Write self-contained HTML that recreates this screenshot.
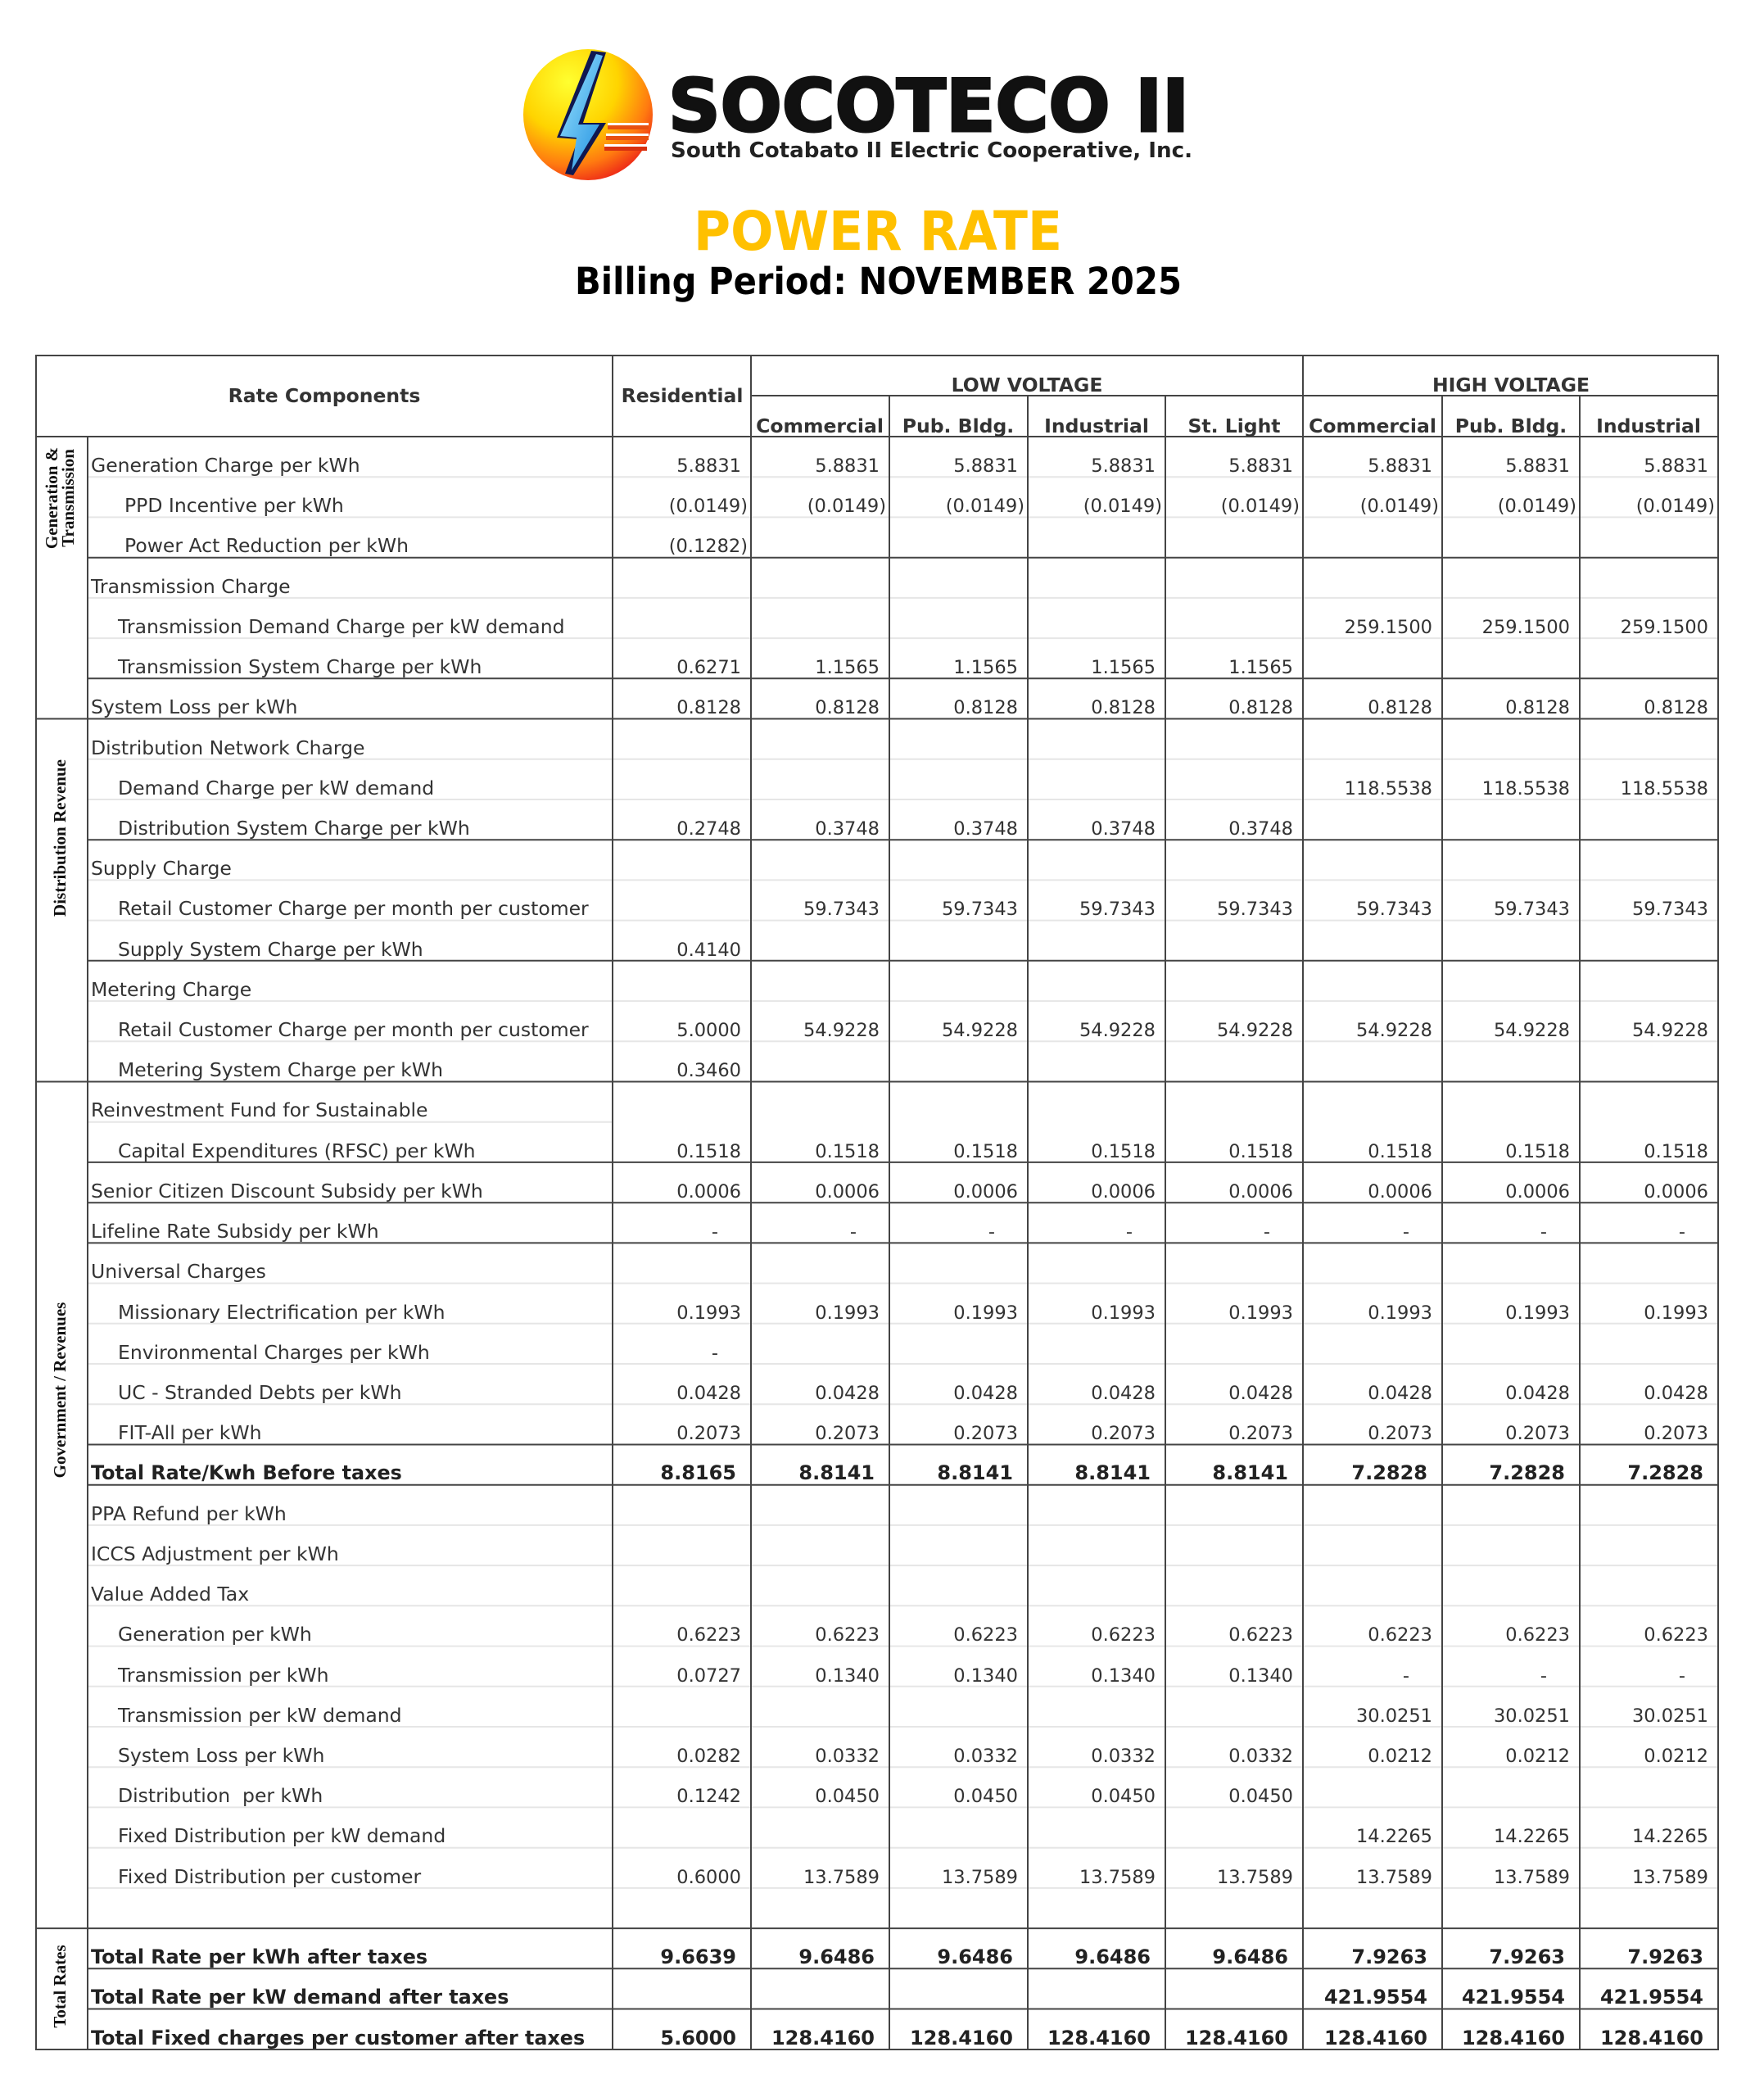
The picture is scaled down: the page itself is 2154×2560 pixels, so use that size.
<!DOCTYPE html>
<html><head><meta charset="utf-8"><style>
html,body{margin:0;padding:0;background:#fff;}
svg{display:block;}
.l{font-family:"DejaVu Sans","Liberation Sans",sans-serif;font-size:23.5px;fill:#333;}
.v{font-family:"DejaVu Sans","Liberation Sans",sans-serif;font-size:22.5px;fill:#333;text-anchor:end;}
.b{font-family:"DejaVu Sans","Liberation Sans",sans-serif;font-size:23.8px;font-weight:bold;fill:#222;}
.bv{font-family:"DejaVu Sans","Liberation Sans",sans-serif;font-size:24px;font-weight:bold;fill:#222;text-anchor:end;}
.h{font-family:"DejaVu Sans","Liberation Sans",sans-serif;font-size:23.5px;font-weight:bold;fill:#333;text-anchor:middle;}
.c{font-family:"Liberation Serif",serif;font-size:21px;font-weight:bold;fill:#111;text-anchor:middle;}
</style></head><body>
<svg width="2154" height="2560" viewBox="0 0 2154 2560" xmlns="http://www.w3.org/2000/svg">
<defs>
<radialGradient id="g1" cx="0.35" cy="0.25" r="0.85">
<stop offset="0" stop-color="#ffff30"/><stop offset="0.45" stop-color="#ffd400"/><stop offset="0.75" stop-color="#ff7a10"/><stop offset="1" stop-color="#e8101a"/>
</radialGradient>
<linearGradient id="g2" x1="0" y1="0" x2="1" y2="1"><stop offset="0" stop-color="#9fe6ff"/><stop offset="1" stop-color="#1f8fe0"/></linearGradient>
</defs>
<ellipse cx="718" cy="140" rx="79" ry="80" fill="url(#g1)"/>
<polygon points="722,62 740,64 712,150 740,150 700,214 690,212 706,170 680,168" fill="#101850"/>
<polygon points="728,66 736,68 706,152 732,152 698,208 704,168 684,166" fill="url(#g2)"/>
<rect x="742" y="150" width="50" height="8" fill="#e85010"/><rect x="740" y="163" width="52" height="8" fill="#e85010"/><rect x="738" y="176" width="52" height="8" fill="#d83010"/>
<rect x="742" y="150" width="50" height="3" fill="#fff"/><rect x="740" y="163" width="52" height="3" fill="#fff"/><rect x="738" y="176" width="52" height="3" fill="#fff"/>
<text x="816" y="160" font-family="DejaVu Sans,sans-serif" font-weight="bold" font-size="88" fill="#111" stroke="#111" stroke-width="3" textLength="636" lengthAdjust="spacingAndGlyphs">SOCOTECO II</text>
<text x="819" y="192" font-family="DejaVu Sans,sans-serif" font-weight="bold" font-size="26" fill="#222" textLength="637" lengthAdjust="spacingAndGlyphs">South Cotabato II Electric Cooperative, Inc.</text>
<text x="847" y="305" font-family="DejaVu Sans,sans-serif" font-weight="bold" font-size="66" fill="#ffc000" textLength="450" lengthAdjust="spacingAndGlyphs">POWER RATE</text>
<text x="702" y="359" font-family="DejaVu Sans,sans-serif" font-weight="bold" font-size="45" fill="#000" textLength="741" lengthAdjust="spacingAndGlyphs">Billing Period: NOVEMBER 2025</text>

<g stroke="#e6e6e6" stroke-width="2">
<line x1="107" y1="582.2" x2="2098" y2="582.2"/><line x1="107" y1="631.4" x2="2098" y2="631.4"/>
<line x1="107" y1="729.9" x2="2098" y2="729.9"/><line x1="107" y1="779.1" x2="2098" y2="779.1"/>
<line x1="107" y1="926.8" x2="2098" y2="926.8"/><line x1="107" y1="976" x2="2098" y2="976"/>
<line x1="107" y1="1074.4" x2="2098" y2="1074.4"/><line x1="107" y1="1123.6" x2="2098" y2="1123.6"/>
<line x1="107" y1="1222.1" x2="2098" y2="1222.1"/><line x1="107" y1="1271.3" x2="2098" y2="1271.3"/>
<line x1="107" y1="1369.7" x2="748" y2="1369.7"/>
<line x1="107" y1="1566.6" x2="2098" y2="1566.6"/><line x1="107" y1="1615.8" x2="2098" y2="1615.8"/><line x1="107" y1="1665" x2="2098" y2="1665"/><line x1="107" y1="1714.3" x2="2098" y2="1714.3"/>
<line x1="107" y1="1861.9" x2="2098" y2="1861.9"/><line x1="107" y1="1911.1" x2="2098" y2="1911.1"/><line x1="107" y1="1960.3" x2="2098" y2="1960.3"/><line x1="107" y1="2009.6" x2="2098" y2="2009.6"/><line x1="107" y1="2058.8" x2="2098" y2="2058.8"/><line x1="107" y1="2108" x2="2098" y2="2108"/><line x1="107" y1="2157.2" x2="2098" y2="2157.2"/><line x1="107" y1="2206.4" x2="2098" y2="2206.4"/><line x1="107" y1="2255.7" x2="2098" y2="2255.7"/><line x1="107" y1="2304.9" x2="2098" y2="2304.9"/>
</g>
<g stroke="#444" stroke-width="2" fill="none">
<rect x="44" y="434" width="2054" height="2068"/>
<line x1="917" y1="483" x2="2098" y2="483"/>
<line x1="44" y1="533" x2="2098" y2="533"/>
<line x1="107" y1="533" x2="107" y2="2502"/>
<line x1="748" y1="434" x2="748" y2="2502"/>
<line x1="917" y1="434" x2="917" y2="2502"/>
<line x1="1591" y1="434" x2="1591" y2="2502"/>
<line x1="1086" y1="483" x2="1086" y2="2502"/><line x1="1255" y1="483" x2="1255" y2="2502"/><line x1="1423" y1="483" x2="1423" y2="2502"/>
<line x1="1761" y1="483" x2="1761" y2="2502"/><line x1="1929" y1="483" x2="1929" y2="2502"/>
<line x1="107" y1="680.7" x2="2098" y2="680.7"/><line x1="107" y1="828.3" x2="2098" y2="828.3"/>
<line x1="44" y1="877.5" x2="2098" y2="877.5"/>
<line x1="107" y1="1025.2" x2="2098" y2="1025.2"/><line x1="107" y1="1172.8" x2="2098" y2="1172.8"/>
<line x1="44" y1="1320.5" x2="2098" y2="1320.5"/>
<line x1="107" y1="1418.9" x2="2098" y2="1418.9"/><line x1="107" y1="1468.2" x2="2098" y2="1468.2"/><line x1="107" y1="1517.4" x2="2098" y2="1517.4"/>
<line x1="107" y1="1763.5" x2="2098" y2="1763.5"/><line x1="107" y1="1812.7" x2="2098" y2="1812.7"/>
<line x1="44" y1="2354.1" x2="2098" y2="2354.1"/>
<line x1="107" y1="2403.3" x2="2098" y2="2403.3"/><line x1="107" y1="2452.5" x2="2098" y2="2452.5"/>
</g>
<text class="h" x="396" y="491">Rate Components</text>
<text class="h" x="833" y="491">Residential</text>
<text class="h" x="1254" y="478">LOW VOLTAGE</text>
<text class="h" x="1845" y="478">HIGH VOLTAGE</text>
<text class="h" x="1001" y="528">Commercial</text>
<text class="h" x="1170" y="528">Pub. Bldg.</text>
<text class="h" x="1339" y="528">Industrial</text>
<text class="h" x="1507" y="528">St. Light</text>
<text class="h" x="1676" y="528">Commercial</text>
<text class="h" x="1845" y="528">Pub. Bldg.</text>
<text class="h" x="2013" y="528">Industrial</text>
<text class="c" transform="translate(70,608) rotate(-90)">Generation &amp;</text>
<text class="c" transform="translate(90,608) rotate(-90)">Transmission</text>
<text class="c" transform="translate(80,1023) rotate(-90)">Distribution Revenue</text>
<text class="c" transform="translate(80,1697) rotate(-90)">Government / Revenues</text>
<text class="c" transform="translate(80,2425) rotate(-90)">Total Rates</text>
<text class="l" x="111" y="576">Generation Charge per kWh</text>
<text class="l" x="152" y="625">PPD Incentive per kWh</text>
<text class="l" x="152" y="674">Power Act Reduction per kWh</text>
<text class="l" x="111" y="724">Transmission Charge</text>
<text class="l" x="144" y="773">Transmission Demand Charge per kW demand</text>
<text class="l" x="144" y="822">Transmission System Charge per kWh</text>
<text class="l" x="111" y="871">System Loss per kWh</text>
<text class="l" x="111" y="921">Distribution Network Charge</text>
<text class="l" x="144" y="970">Demand Charge per kW demand</text>
<text class="l" x="144" y="1019">Distribution System Charge per kWh</text>
<text class="l" x="111" y="1068">Supply Charge</text>
<text class="l" x="144" y="1117">Retail Customer Charge per month per customer</text>
<text class="l" x="144" y="1167">Supply System Charge per kWh</text>
<text class="l" x="111" y="1216">Metering Charge</text>
<text class="l" x="144" y="1265">Retail Customer Charge per month per customer</text>
<text class="l" x="144" y="1314">Metering System Charge per kWh</text>
<text class="l" x="111" y="1363">Reinvestment Fund for Sustainable</text>
<text class="l" x="144" y="1413">Capital Expenditures (RFSC) per kWh</text>
<text class="l" x="111" y="1462">Senior Citizen Discount Subsidy per kWh</text>
<text class="l" x="111" y="1511">Lifeline Rate Subsidy per kWh</text>
<text class="l" x="111" y="1560">Universal Charges</text>
<text class="l" x="144" y="1610">Missionary Electrification per kWh</text>
<text class="l" x="144" y="1659">Environmental Charges per kWh</text>
<text class="l" x="144" y="1708">UC - Stranded Debts per kWh</text>
<text class="l" x="144" y="1757">FIT-All per kWh</text>
<text class="b" x="111" y="1806">Total Rate/Kwh Before taxes</text>
<text class="l" x="111" y="1856">PPA Refund per kWh</text>
<text class="l" x="111" y="1905">ICCS Adjustment per kWh</text>
<text class="l" x="111" y="1954">Value Added Tax</text>
<text class="l" x="144" y="2003">Generation per kWh</text>
<text class="l" x="144" y="2053">Transmission per kWh</text>
<text class="l" x="144" y="2102">Transmission per kW demand</text>
<text class="l" x="144" y="2151">System Loss per kWh</text>
<text class="l" x="144" y="2200" xml:space="preserve">Distribution  per kWh</text>
<text class="l" x="144" y="2249">Fixed Distribution per kW demand</text>
<text class="l" x="144" y="2299">Fixed Distribution per customer</text>
<text class="b" x="111" y="2397">Total Rate per kWh after taxes</text>
<text class="b" x="111" y="2446">Total Rate per kW demand after taxes</text>
<text class="b" x="111" y="2496">Total Fixed charges per customer after taxes</text>
<g>
<text class="v" x="905" y="576">5.8831</text><text class="v" x="1074" y="576">5.8831</text><text class="v" x="1243" y="576">5.8831</text><text class="v" x="1411" y="576">5.8831</text><text class="v" x="1579" y="576">5.8831</text><text class="v" x="1749" y="576">5.8831</text><text class="v" x="1917" y="576">5.8831</text><text class="v" x="2086" y="576">5.8831</text>
<text class="v" x="913" y="625">(0.0149)</text><text class="v" x="1082" y="625">(0.0149)</text><text class="v" x="1251" y="625">(0.0149)</text><text class="v" x="1419" y="625">(0.0149)</text><text class="v" x="1587" y="625">(0.0149)</text><text class="v" x="1757" y="625">(0.0149)</text><text class="v" x="1925" y="625">(0.0149)</text><text class="v" x="2094" y="625">(0.0149)</text>
<text class="v" x="913" y="674">(0.1282)</text>
<text class="v" x="1749" y="773">259.1500</text><text class="v" x="1917" y="773">259.1500</text><text class="v" x="2086" y="773">259.1500</text>
<text class="v" x="905" y="822">0.6271</text><text class="v" x="1074" y="822">1.1565</text><text class="v" x="1243" y="822">1.1565</text><text class="v" x="1411" y="822">1.1565</text><text class="v" x="1579" y="822">1.1565</text>
<text class="v" x="905" y="871">0.8128</text><text class="v" x="1074" y="871">0.8128</text><text class="v" x="1243" y="871">0.8128</text><text class="v" x="1411" y="871">0.8128</text><text class="v" x="1579" y="871">0.8128</text><text class="v" x="1749" y="871">0.8128</text><text class="v" x="1917" y="871">0.8128</text><text class="v" x="2086" y="871">0.8128</text>
<text class="v" x="1749" y="970">118.5538</text><text class="v" x="1917" y="970">118.5538</text><text class="v" x="2086" y="970">118.5538</text>
<text class="v" x="905" y="1019">0.2748</text><text class="v" x="1074" y="1019">0.3748</text><text class="v" x="1243" y="1019">0.3748</text><text class="v" x="1411" y="1019">0.3748</text><text class="v" x="1579" y="1019">0.3748</text>
<text class="v" x="1074" y="1117">59.7343</text><text class="v" x="1243" y="1117">59.7343</text><text class="v" x="1411" y="1117">59.7343</text><text class="v" x="1579" y="1117">59.7343</text><text class="v" x="1749" y="1117">59.7343</text><text class="v" x="1917" y="1117">59.7343</text><text class="v" x="2086" y="1117">59.7343</text>
<text class="v" x="905" y="1167">0.4140</text>
<text class="v" x="905" y="1265">5.0000</text><text class="v" x="1074" y="1265">54.9228</text><text class="v" x="1243" y="1265">54.9228</text><text class="v" x="1411" y="1265">54.9228</text><text class="v" x="1579" y="1265">54.9228</text><text class="v" x="1749" y="1265">54.9228</text><text class="v" x="1917" y="1265">54.9228</text><text class="v" x="2086" y="1265">54.9228</text>
<text class="v" x="905" y="1314">0.3460</text>
<text class="v" x="905" y="1413">0.1518</text><text class="v" x="1074" y="1413">0.1518</text><text class="v" x="1243" y="1413">0.1518</text><text class="v" x="1411" y="1413">0.1518</text><text class="v" x="1579" y="1413">0.1518</text><text class="v" x="1749" y="1413">0.1518</text><text class="v" x="1917" y="1413">0.1518</text><text class="v" x="2086" y="1413">0.1518</text>
<text class="v" x="905" y="1462">0.0006</text><text class="v" x="1074" y="1462">0.0006</text><text class="v" x="1243" y="1462">0.0006</text><text class="v" x="1411" y="1462">0.0006</text><text class="v" x="1579" y="1462">0.0006</text><text class="v" x="1749" y="1462">0.0006</text><text class="v" x="1917" y="1462">0.0006</text><text class="v" x="2086" y="1462">0.0006</text>
<text class="v" x="877" y="1511">-</text><text class="v" x="1046" y="1511">-</text><text class="v" x="1215" y="1511">-</text><text class="v" x="1383" y="1511">-</text><text class="v" x="1551" y="1511">-</text><text class="v" x="1721" y="1511">-</text><text class="v" x="1889" y="1511">-</text><text class="v" x="2058" y="1511">-</text>
<text class="v" x="905" y="1610">0.1993</text><text class="v" x="1074" y="1610">0.1993</text><text class="v" x="1243" y="1610">0.1993</text><text class="v" x="1411" y="1610">0.1993</text><text class="v" x="1579" y="1610">0.1993</text><text class="v" x="1749" y="1610">0.1993</text><text class="v" x="1917" y="1610">0.1993</text><text class="v" x="2086" y="1610">0.1993</text>
<text class="v" x="877" y="1659">-</text>
<text class="v" x="905" y="1708">0.0428</text><text class="v" x="1074" y="1708">0.0428</text><text class="v" x="1243" y="1708">0.0428</text><text class="v" x="1411" y="1708">0.0428</text><text class="v" x="1579" y="1708">0.0428</text><text class="v" x="1749" y="1708">0.0428</text><text class="v" x="1917" y="1708">0.0428</text><text class="v" x="2086" y="1708">0.0428</text>
<text class="v" x="905" y="1757">0.2073</text><text class="v" x="1074" y="1757">0.2073</text><text class="v" x="1243" y="1757">0.2073</text><text class="v" x="1411" y="1757">0.2073</text><text class="v" x="1579" y="1757">0.2073</text><text class="v" x="1749" y="1757">0.2073</text><text class="v" x="1917" y="1757">0.2073</text><text class="v" x="2086" y="1757">0.2073</text>
<text class="bv" x="899" y="1806">8.8165</text><text class="bv" x="1068" y="1806">8.8141</text><text class="bv" x="1237" y="1806">8.8141</text><text class="bv" x="1405" y="1806">8.8141</text><text class="bv" x="1573" y="1806">8.8141</text><text class="bv" x="1743" y="1806">7.2828</text><text class="bv" x="1911" y="1806">7.2828</text><text class="bv" x="2080" y="1806">7.2828</text>
<text class="v" x="905" y="2003">0.6223</text><text class="v" x="1074" y="2003">0.6223</text><text class="v" x="1243" y="2003">0.6223</text><text class="v" x="1411" y="2003">0.6223</text><text class="v" x="1579" y="2003">0.6223</text><text class="v" x="1749" y="2003">0.6223</text><text class="v" x="1917" y="2003">0.6223</text><text class="v" x="2086" y="2003">0.6223</text>
<text class="v" x="905" y="2053">0.0727</text><text class="v" x="1074" y="2053">0.1340</text><text class="v" x="1243" y="2053">0.1340</text><text class="v" x="1411" y="2053">0.1340</text><text class="v" x="1579" y="2053">0.1340</text><text class="v" x="1721" y="2053">-</text><text class="v" x="1889" y="2053">-</text><text class="v" x="2058" y="2053">-</text>
<text class="v" x="1749" y="2102">30.0251</text><text class="v" x="1917" y="2102">30.0251</text><text class="v" x="2086" y="2102">30.0251</text>
<text class="v" x="905" y="2151">0.0282</text><text class="v" x="1074" y="2151">0.0332</text><text class="v" x="1243" y="2151">0.0332</text><text class="v" x="1411" y="2151">0.0332</text><text class="v" x="1579" y="2151">0.0332</text><text class="v" x="1749" y="2151">0.0212</text><text class="v" x="1917" y="2151">0.0212</text><text class="v" x="2086" y="2151">0.0212</text>
<text class="v" x="905" y="2200">0.1242</text><text class="v" x="1074" y="2200">0.0450</text><text class="v" x="1243" y="2200">0.0450</text><text class="v" x="1411" y="2200">0.0450</text><text class="v" x="1579" y="2200">0.0450</text>
<text class="v" x="1749" y="2249">14.2265</text><text class="v" x="1917" y="2249">14.2265</text><text class="v" x="2086" y="2249">14.2265</text>
<text class="v" x="905" y="2299">0.6000</text><text class="v" x="1074" y="2299">13.7589</text><text class="v" x="1243" y="2299">13.7589</text><text class="v" x="1411" y="2299">13.7589</text><text class="v" x="1579" y="2299">13.7589</text><text class="v" x="1749" y="2299">13.7589</text><text class="v" x="1917" y="2299">13.7589</text><text class="v" x="2086" y="2299">13.7589</text>
<text class="bv" x="899" y="2397">9.6639</text><text class="bv" x="1068" y="2397">9.6486</text><text class="bv" x="1237" y="2397">9.6486</text><text class="bv" x="1405" y="2397">9.6486</text><text class="bv" x="1573" y="2397">9.6486</text><text class="bv" x="1743" y="2397">7.9263</text><text class="bv" x="1911" y="2397">7.9263</text><text class="bv" x="2080" y="2397">7.9263</text>
<text class="bv" x="1743" y="2446">421.9554</text><text class="bv" x="1911" y="2446">421.9554</text><text class="bv" x="2080" y="2446">421.9554</text>
<text class="bv" x="899" y="2496">5.6000</text><text class="bv" x="1068" y="2496">128.4160</text><text class="bv" x="1237" y="2496">128.4160</text><text class="bv" x="1405" y="2496">128.4160</text><text class="bv" x="1573" y="2496">128.4160</text><text class="bv" x="1743" y="2496">128.4160</text><text class="bv" x="1911" y="2496">128.4160</text><text class="bv" x="2080" y="2496">128.4160</text>
</g>
</svg>
</body></html>
